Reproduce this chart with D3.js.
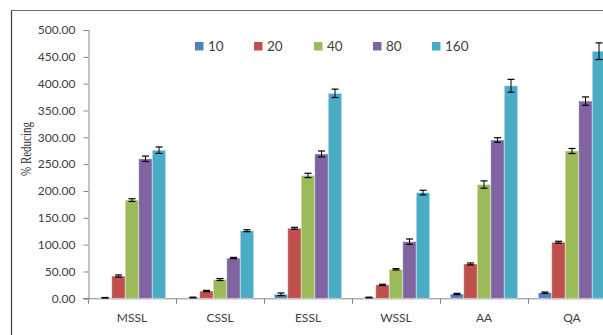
<!DOCTYPE html>
<html>
<head>
<meta charset="utf-8">
<script src="https://cdn.jsdelivr.net/npm/d3@7"></script>
<style>
  html, body { margin: 0; padding: 0; background: #fff; }
  svg { display: block; }
</style>
</head>
<body>
<svg id="chart" width="603" height="335"></svg>
<script>
// Extracts and concentrations
const categories = ["MSSL", "CSSL", "ESSL", "WSSL", "AA", "QA"];
const seriesNames = ["10", "20", "40", "80", "160"];
const seriesColors = ["#4F81BD", "#C0504D", "#9BBB59", "#8064A2", "#4BACC6"];

// % reducing power, one array per concentration (order follows categories)
const values10  = [1.0, 1.5, 7.5, 1.5, 8.0, 10.5];
const values20  = [41.5, 13.5, 130.5, 25.0, 64.0, 104.5];
const values40  = [183.0, 35.0, 229.0, 54.0, 212.0, 274.5];
const values80  = [260.0, 75.0, 269.0, 105.5, 295.0, 367.5];
const values160 = [276.0, 126.0, 382.0, 197.0, 396.0, 460.5];

// standard deviations for the error bars
const err10  = [0.5, 0.6, 2.5, 0.6, 1.2, 1.2];
const err20  = [2.0, 1.2, 1.8, 1.2, 1.8, 1.8];
const err40  = [2.5, 1.8, 4.0, 1.2, 6.8, 4.7];
const err80  = [5.0, 1.2, 5.5, 5.0, 4.3, 7.8];
const err160 = [6.0, 1.8, 7.8, 4.3, 12.0, 15.5];

const yTicks = [0, 50, 100, 150, 200, 250, 300, 350, 400, 450, 500];

const allValues = [values10, values20, values40, values80, values160];
const allErrors = [err10, err20, err40, err80, err160];

const svg = d3.select("#chart");
const axisColor = "#868686";
const textColor = "#404040";

// outer frame (top and left edges)
svg.append("line").attr("x1", 11.5).attr("x2", 603).attr("y1", 10.5).attr("y2", 10.5)
  .attr("stroke", "#6b6b6b").attr("stroke-width", 1.2);
svg.append("line").attr("x1", 11.5).attr("x2", 11.5).attr("y1", 10.5).attr("y2", 335)
  .attr("stroke", "#3a3a3a").attr("stroke-width", 1.2);

const plotLeft = 88, plotRight = 616, plotTop = 30, plotBottom = 298.3;

const y = d3.scaleLinear().domain([0, 500]).range([plotBottom, plotTop]);
const x0 = d3.scaleBand().domain(categories).range([plotLeft, plotRight]);
const x1 = d3.scaleBand().domain(seriesNames)
  .range([10.25, x0.bandwidth() - 10.25]);

// y axis
const yAxis = d3.axisLeft(y).tickValues(yTicks)
  .tickFormat(d3.format(".2f")).tickSizeOuter(0).tickSize(5).tickPadding(8);
const gy = svg.append("g").attr("transform", `translate(${plotLeft + 0.5},0)`).call(yAxis);
gy.select(".domain").attr("stroke", axisColor);
gy.selectAll(".tick line").attr("stroke", axisColor);
gy.selectAll(".tick text").attr("fill", textColor)
  .style("font-family", "Lato, 'Open Sans', sans-serif").style("font-size", "12px");

// x axis with ticks on category boundaries
const gx = svg.append("g").attr("transform", `translate(0,${plotBottom + 0.5})`);
gx.append("line").attr("x1", plotLeft - 5).attr("x2", plotRight)
  .attr("stroke", axisColor);
gx.selectAll("line.bound").data(categories).join("line").attr("class", "bound")
  .attr("x1", d => x0(d) + 0.5).attr("x2", d => x0(d) + 0.5)
  .attr("y1", 0).attr("y2", 5).attr("stroke", axisColor);
gx.selectAll("text").data(categories).join("text")
  .attr("x", d => x0(d) + x0.bandwidth() / 2).attr("y", 23)
  .attr("text-anchor", "middle").attr("fill", textColor)
  .style("font-family", "Lato, 'Open Sans', sans-serif").style("font-size", "12px")
  .text(d => d);

// bars
const groups = svg.append("g").selectAll("g").data(categories).join("g")
  .attr("transform", d => `translate(${x0(d)},0)`);

groups.selectAll("rect").data((c, ci) => seriesNames.map((s, si) => ({
    s, si, v: allValues[si][ci], e: allErrors[si][ci]
  }))).join("rect")
  .attr("x", d => x1(d.s))
  .attr("y", d => y(d.v))
  .attr("width", x1.bandwidth())
  .attr("height", d => plotBottom - y(d.v))
  .attr("fill", d => seriesColors[d.si])
  .attr("stroke", "rgba(255,255,255,0.55)").attr("stroke-width", 0.8);

// error bars
const eb = groups.selectAll("g.err").data((c, ci) => seriesNames.map((s, si) => ({
    s, si, v: allValues[si][ci], e: allErrors[si][ci]
  }))).join("g").attr("class", "err")
  .attr("transform", d => `translate(${x1(d.s) + x1.bandwidth() / 2},0)`);
eb.append("line").attr("x1", 0).attr("x2", 0)
  .attr("y1", d => y(d.v + d.e)).attr("y2", d => y(d.v - d.e))
  .attr("stroke", "#000").attr("stroke-width", 1);
eb.append("line").attr("x1", -3.5).attr("x2", 3.5)
  .attr("y1", d => y(d.v + d.e)).attr("y2", d => y(d.v + d.e))
  .attr("stroke", "#000").attr("stroke-width", 1.2);
eb.append("line").attr("x1", -3.5).attr("x2", 3.5)
  .attr("y1", d => y(d.v - d.e)).attr("y2", d => y(d.v - d.e))
  .attr("stroke", "#000").attr("stroke-width", 1.2);

// legend
const legendX = [195, 254, 314, 373, 432];
const legend = svg.append("g").selectAll("g").data(seriesNames).join("g")
  .attr("transform", (d, i) => `translate(${legendX[i]},42)`);
legend.append("rect").attr("width", 8.5).attr("height", 8.5)
  .attr("fill", (d, i) => seriesColors[i]);
legend.append("text").attr("x", 13).attr("y", 9)
  .attr("fill", textColor)
  .style("font-family", "Lato, 'Open Sans', sans-serif").style("font-size", "13.5px")
  .text(d => d);

// y axis title
svg.append("text")
  .attr("transform", "translate(31,149) rotate(-90)")
  .attr("text-anchor", "middle")
  .attr("fill", "#333")
  .attr("textLength", 54).attr("lengthAdjust", "spacingAndGlyphs")
  .style("font-family", "'Liberation Serif', 'DejaVu Serif', serif").style("font-size", "15.5px")
  .text("% Reducing");
</script>
</body>
</html>
